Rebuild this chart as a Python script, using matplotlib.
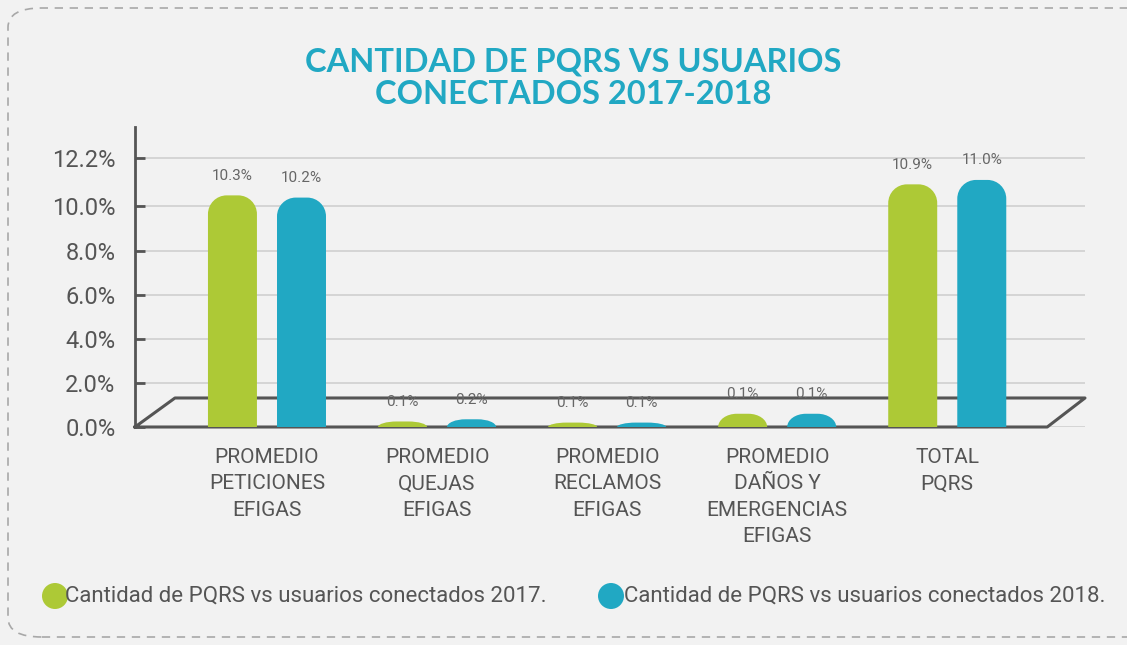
import matplotlib
matplotlib.use("Agg")
import matplotlib.pyplot as plt
import numpy as np
from matplotlib.path import Path
from matplotlib.patches import PathPatch, FancyBboxPatch, Circle

plt.rcParams['font.family'] = ['Roboto', 'DejaVu Sans']

categories = ["PROMEDIO\nPETICIONES\nEFIGAS", "PROMEDIO\nQUEJAS\nEFIGAS",
              "PROMEDIO\nRECLAMOS\nEFIGAS", "PROMEDIO\nDAÑOS Y\nEMERGENCIAS\nEFIGAS",
              "TOTAL\nPQRS"]
# drawn bar heights (%)
h2017 = [10.5, 0.25, 0.2, 0.6, 11.0]
h2018 = [10.4, 0.35, 0.2, 0.6, 11.2]
# printed value labels
lab2017 = ["10.3%", "0.1%", "0.1%", "0.1%", "10.9%"]
lab2018 = ["10.2%", "0.2%", "0.1%", "0.1%", "11.0%"]
series = ["Cantidad de PQRS vs usuarios conectados 2017.",
          "Cantidad de PQRS vs usuarios conectados 2018."]
yticks = [0, 2, 4, 6, 8, 10, 12.2]

GREEN = "#adc936"
BLUE = "#21a8c3"
GREY = "#555555"
BG = "#f2f2f2"

fig = plt.figure(figsize=(11.27, 6.45), dpi=100, facecolor=BG)

# dashed rounded frame
frame = FancyBboxPatch((8 / 1127, 8 / 645), 1.05, 1 - 16 / 645,
                       boxstyle="round,pad=0,rounding_size=0.03",
                       transform=fig.transFigure, fill=False,
                       ec="#a8a8a8", lw=1.2, ls=(0, (5, 4)))
fig.patches.append(frame)

ax = fig.add_axes([135 / 1127, (645 - 427) / 645, 950 / 1127, 300 / 645])
ax.set_facecolor(BG)
ax.set_xlim(-0.776, 4.81)
ax.set_ylim(0, 13.6)

for s in ["top", "right", "bottom"]:
    ax.spines[s].set_visible(False)
ax.spines["left"].set_color(GREY)
ax.spines["left"].set_linewidth(2)

ax.set_yticks(yticks)
ax.set_yticklabels(["%.1f%%" % v for v in yticks], fontsize=17, color=GREY)
ax.tick_params(axis="y", direction="in", length=7, width=2, color=GREY, pad=14)
ax.yaxis.grid(True, color="#d0d0d0", lw=1.2)
ax.set_axisbelow(True)

x = np.arange(len(categories))
ax.set_xticks(x)
ax.set_xticklabels(categories, fontsize=15, color=GREY, linespacing=1.5, va="top")
ax.tick_params(axis="x", length=0, pad=15)

# 3D-ish floor
x_left, x_right = ax.get_xlim()
floor_top = 1.315
floor_x = [x_left, -0.541, x_right, 4.588, x_left]
floor_y = [0, floor_top, floor_top, 0, 0]
ax.plot(floor_x, floor_y, color=GREY, lw=2.2, zorder=3, clip_on=False)


def top_round_bar(xc, w, h, color, rx=0.11, ry=0.85):
    ry = min(ry, h)
    k = 0.5523
    x0, x1 = xc - w / 2, xc + w / 2
    verts = [(x0, 0), (x0, h - ry),
             (x0, h - ry + k * ry), (x0 + rx - k * rx, h), (x0 + rx, h),
             (x1 - rx, h),
             (x1 - rx + k * rx, h), (x1, h - ry + k * ry), (x1, h - ry),
             (x1, 0), (x0, 0)]
    codes = [Path.MOVETO, Path.LINETO,
             Path.CURVE4, Path.CURVE4, Path.CURVE4,
             Path.LINETO,
             Path.CURVE4, Path.CURVE4, Path.CURVE4,
             Path.LINETO, Path.CLOSEPOLY]
    ax.add_patch(PathPatch(Path(verts, codes), fc=color, ec="none", zorder=4))


w = 0.288
off = 0.203
for i in range(len(categories)):
    for xc, h, lab, col in [(x[i] - off, h2017[i], lab2017[i], GREEN),
                            (x[i] + off, h2018[i], lab2018[i], BLUE)]:
        top_round_bar(xc, w, h, col)
        ax.annotate(lab, (xc, h), xytext=(0, 9), textcoords="offset points",
                    ha="center", va="bottom", fontsize=11, color="#666666", zorder=5)

# title
fig.text(573 / 1127, 1 - 78 / 645, "CANTIDAD DE PQRS VS USUARIOS\nCONECTADOS 2017-2018",
         ha="center", va="center", fontsize=23.5, fontweight="bold", color=BLUE,
         family=["Lato", "DejaVu Sans"], linespacing=1.15)

# legend
for cx, tx, col, txt in [(55, 65, GREEN, series[0]), (611, 624, BLUE, series[1])]:
    fig.patches.append(Circle((cx / 100, (645 - 596) / 100), 0.13, fc=col, ec="none",
                              transform=fig.dpi_scale_trans))
    fig.text(tx / 1127, 1 - 596 / 645, txt, ha="left", va="center",
             fontsize=16, color=GREY)

fig.savefig("out.png", dpi=100, facecolor=BG)
